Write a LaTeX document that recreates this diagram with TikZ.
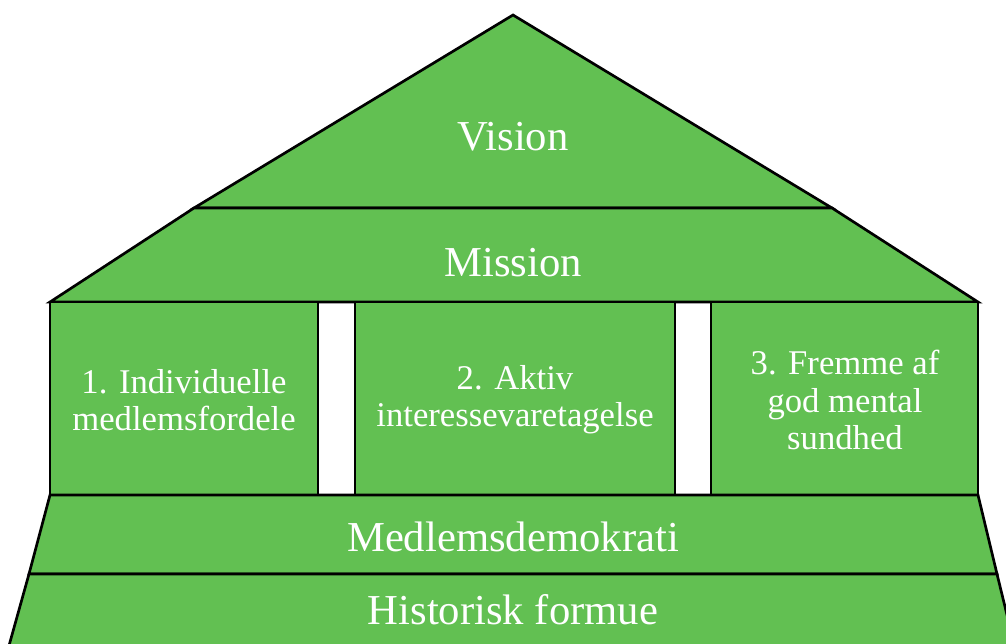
\documentclass[tikz,border=0pt]{standalone}
\usepackage{fontspec}
\setmainfont{Liberation Serif}
\usepackage{tikz}

\definecolor{housegreen}{RGB}{98,192,82}

\tikzset{
    part/.style={fill=housegreen, draw=black, line width=2pt, line join=miter},
    bigtext/.style={text=white, font=\fontsize{32}{34}\selectfont},
    pillartext/.style={text=white, align=center, font=\fontsize{26}{28}\selectfont}
}

\begin{document}
\begin{tikzpicture}[x=0.75pt, y=-0.75pt]

        \useasboundingbox (0,0) rectangle (1006,643);
        \clip (0,0) rectangle (1006,643);

        % roof
        \draw[part]
            (513,15) -- (832,208) -- (194,208) -- cycle;

        \draw[part]
            (194,208) -- (832,208) -- (978,302) -- (50,302) -- cycle;

        % pillars
        \draw[part] (50,302) rectangle (318,495);
        \draw[part] (355,302) rectangle (675,495);
        \draw[part] (711,302) rectangle (978,495);

        % foundation
        \draw[part]
            (50,495) -- (978,495) -- (997,574) -- (29,574) -- cycle;

        \draw[part]
            (29,574) -- (997,574) -- (1018,660) -- (5,660) -- cycle;

        \node[bigtext] (vision) at (513,137) {Vision};
        \node[bigtext] (mission) at (513,263) {Mission};

        \node[pillartext] (benefits) at (184,400)
            {1. Individuelle\\medlemsfordele};
        \node[pillartext] (advocacy) at (515,400)
            {2. Aktiv\\interessevaretagelse};
        \node[pillartext] (health) at (845,400)
            {3. Fremme af\\god mental\\sundhed};

        \node[bigtext] (democracy) at (513,537) {Medlemsdemokrati};
        \node[bigtext] (fortune) at (513,610) {Historisk formue};

\end{tikzpicture}
\end{document}
